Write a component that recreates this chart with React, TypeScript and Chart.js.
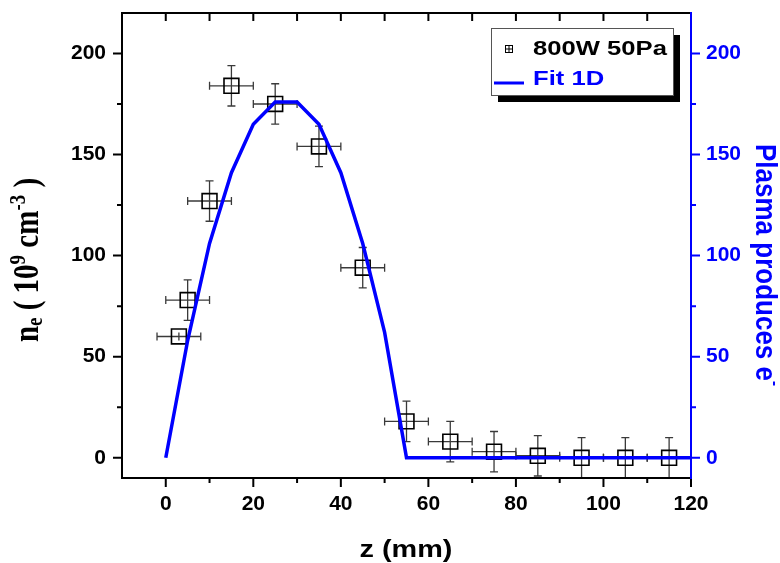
import { useEffect, useRef } from 'react';
import { Chart, registerables } from 'chart.js';

Chart.register(...registerables);

// ---- data ----
const measZ = [3, 5, 10, 15, 25, 35, 45, 55, 65, 75, 85, 95, 105, 115];
const measNe = [60, 78, 127, 184, 175, 154, 94, 18, 8, 3, 1, 0, 0, 0];
const measZErr = [5, 5, 5, 5, 5, 5, 5, 5, 5, 5, 5, 5, 5, 5];
const measNeErr = [2, 10, 10, 10, 10, 10, 10, 10, 10, 10, 10, 10, 10, 10];

const fitZ = [0, 5, 10, 15, 20, 25, 30, 35, 40, 45, 50, 55, 60, 65, 70, 75, 80, 85, 90, 95, 100, 105, 110, 115, 120];
const fitVal = [0, 58, 106, 141, 165, 176, 176, 165, 141, 106, 62, 0, 0, 0, 0, 0, 0, 0, 0, 0, 0, 0, 0, 0, 0];

const xTicks = [0, 20, 40, 60, 80, 100, 120];
const xMinor = [10, 30, 50, 70, 90, 110];
const xTopTicks = [0, 10, 20, 30, 40, 50, 60, 70, 80, 90, 100, 110];
const yTicks = [0, 50, 100, 150, 200];
const yMinor = [25, 75, 125, 175];

const seriesLabel = '800W 50Pa';
const fitLabel = 'Fit 1D';
const xTitle = 'z (mm)';
const rightTitle = 'Plasma produces e';

const BLUE = '#0000ff';
const SANS = '"Liberation Sans", Arial, sans-serif';
const SERIF = '"Liberation Serif", "Times New Roman", serif';

type Part = { t: string; size: number; dy: number };

function drawParts(ctx: CanvasRenderingContext2D, parts: Part[], family: string) {
  let total = 0;
  const widths: number[] = [];
  for (const p of parts) {
    ctx.font = `bold ${p.size}px ${family}`;
    const w = ctx.measureText(p.t).width;
    widths.push(w);
    total += w;
  }
  let x = -total / 2;
  ctx.textAlign = 'left';
  ctx.textBaseline = 'alphabetic';
  parts.forEach((p, i) => {
    ctx.font = `bold ${p.size}px ${family}`;
    ctx.fillText(p.t, x, p.dy);
    x += widths[i];
  });
}

const decorPlugin = {
  id: 'decor',
  beforeDatasetsDraw(chart: any) {
    const ctx: CanvasRenderingContext2D = chart.ctx;
    const xs = chart.scales.x;
    const ys = chart.scales.y;
    ctx.save();
    ctx.strokeStyle = '#3a3a3a';
    ctx.lineWidth = 1.3;
    const cap = 4;
    for (let i = 0; i < measZ.length; i++) {
      const px = xs.getPixelForValue(measZ[i]);
      const py = ys.getPixelForValue(measNe[i]);
      const xl = xs.getPixelForValue(measZ[i] - measZErr[i]);
      const xr = xs.getPixelForValue(measZ[i] + measZErr[i]);
      const yt = ys.getPixelForValue(measNe[i] + measNeErr[i]);
      const yb = ys.getPixelForValue(measNe[i] - measNeErr[i]);
      ctx.beginPath();
      ctx.moveTo(xl, py); ctx.lineTo(xr, py);
      ctx.moveTo(xl, py - cap); ctx.lineTo(xl, py + cap);
      ctx.moveTo(xr, py - cap); ctx.lineTo(xr, py + cap);
      ctx.moveTo(px, yt); ctx.lineTo(px, yb);
      if (measNeErr[i] > 3) {
        ctx.moveTo(px - cap, yt); ctx.lineTo(px + cap, yt);
        ctx.moveTo(px - cap, yb); ctx.lineTo(px + cap, yb);
      }
      ctx.stroke();
    }
    ctx.restore();
  },
  afterDraw(chart: any) {
    const ctx: CanvasRenderingContext2D = chart.ctx;
    const a = chart.chartArea;
    const xs = chart.scales.x;
    const ys = chart.scales.y;
    const ys2 = chart.scales.y2;
    ctx.save();
    // frame
    ctx.lineWidth = 2;
    ctx.strokeStyle = '#000';
    ctx.beginPath();
    ctx.moveTo(a.left, a.bottom); ctx.lineTo(a.left, a.top - 1);
    ctx.moveTo(a.left - 1, a.top); ctx.lineTo(a.right, a.top);
    ctx.moveTo(a.left - 1, a.bottom); ctx.lineTo(a.right, a.bottom);
    // left ticks
    for (const v of yTicks) { const p = ys.getPixelForValue(v); ctx.moveTo(a.left - 9, p); ctx.lineTo(a.left, p); }
    for (const v of yMinor) { const p = ys.getPixelForValue(v); ctx.moveTo(a.left - 5, p); ctx.lineTo(a.left, p); }
    // bottom ticks
    for (const v of xTicks) { const p = xs.getPixelForValue(v); ctx.moveTo(p, a.bottom); ctx.lineTo(p, a.bottom + 9); }
    for (const v of xMinor) { const p = xs.getPixelForValue(v); ctx.moveTo(p, a.bottom); ctx.lineTo(p, a.bottom + 5); }
    // top ticks (inward)
    for (const v of xTopTicks) { const p = xs.getPixelForValue(v); ctx.moveTo(p, a.top); ctx.lineTo(p, a.top + 8); }
    ctx.stroke();
    // right axis
    ctx.strokeStyle = BLUE;
    ctx.beginPath();
    ctx.moveTo(a.right, a.top - 1); ctx.lineTo(a.right, a.bottom + 1);
    for (const v of yTicks) { const p = ys2.getPixelForValue(v); ctx.moveTo(a.right, p); ctx.lineTo(a.right + 9, p); }
    for (const v of yMinor) { const p = ys2.getPixelForValue(v); ctx.moveTo(a.right, p); ctx.lineTo(a.right + 5, p); }
    ctx.stroke();

    // left title
    ctx.fillStyle = '#000';
    ctx.save();
    ctx.translate(38, 260);
    ctx.rotate(-Math.PI / 2);
    ctx.scale(1, 1.2);
    drawParts(ctx, [
      { t: 'n', size: 29, dy: 0 },
      { t: 'e', size: 19, dy: 3 },
      { t: ' ( 10', size: 29, dy: 0 },
      { t: '9', size: 19, dy: -11 },
      { t: ' cm', size: 29, dy: 0 },
      { t: '-3', size: 19, dy: -11 },
      { t: ' )', size: 29, dy: 0 },
    ], SERIF);
    ctx.restore();

    // right title
    ctx.fillStyle = BLUE;
    ctx.save();
    ctx.translate(756, 265);
    ctx.rotate(Math.PI / 2);
    ctx.scale(1, 1.15);
    drawParts(ctx, [
      { t: rightTitle, size: 26, dy: 0 },
      { t: '-', size: 15, dy: -12 },
    ], SANS);
    ctx.restore();

    // bottom title
    ctx.fillStyle = '#000';
    ctx.save();
    ctx.translate(406, 557);
    ctx.scale(1.2, 1);
    ctx.font = `bold 24px ${SANS}`;
    ctx.textAlign = 'center';
    ctx.textBaseline = 'alphabetic';
    ctx.fillText(xTitle, 0, 0);
    ctx.restore();

    // legend
    const bx = 491, by = 28, bw = 182, bh = 67;
    ctx.fillStyle = '#000';
    ctx.fillRect(bx + 7, by + 7, bw, bh);
    ctx.fillStyle = '#fff';
    ctx.fillRect(bx, by, bw, bh);
    ctx.lineWidth = 1;
    ctx.strokeStyle = '#555';
    ctx.strokeRect(bx + 0.5, by + 0.5, bw, bh);
    // marker
    ctx.strokeStyle = '#000';
    ctx.lineWidth = 1;
    ctx.strokeRect(505.5, 45.5, 7, 7);
    ctx.beginPath();
    ctx.moveTo(509, 45.5); ctx.lineTo(509, 52.5);
    ctx.moveTo(505.5, 49); ctx.lineTo(512.5, 49);
    ctx.stroke();
    // line sample
    ctx.strokeStyle = BLUE;
    ctx.lineWidth = 3;
    ctx.beginPath();
    ctx.moveTo(494, 83); ctx.lineTo(524, 83);
    ctx.stroke();
    ctx.font = `bold 21px ${SANS}`;
    ctx.textAlign = 'left';
    ctx.textBaseline = 'alphabetic';
    ctx.save();
    ctx.translate(533, 55);
    ctx.scale(1.22, 1);
    ctx.fillStyle = '#000';
    ctx.fillText(seriesLabel, 0, 0);
    ctx.restore();
    ctx.save();
    ctx.translate(533, 85);
    ctx.scale(1.22, 1);
    ctx.fillStyle = BLUE;
    ctx.fillText(fitLabel, 0, 0);
    ctx.restore();

    ctx.restore();
  },
};

export default function App() {
  const ref = useRef<HTMLCanvasElement | null>(null);
  useEffect(() => {
    if (!ref.current) return;
    const tickFont = { family: SANS, weight: 'bold' as const, size: 21 };
    const chart = new Chart(ref.current, {
      type: 'scatter',
      data: {
        datasets: [
          {
            type: 'line',
            label: fitLabel,
            data: fitZ.map((z, i) => ({ x: z, y: fitVal[i] })),
            borderColor: BLUE,
            borderWidth: 3.5,
            pointRadius: 0,
            fill: false,
            tension: 0,
            xAxisID: 'x',
            yAxisID: 'y2',
            order: 0,
          } as any,
          {
            type: 'scatter',
            label: seriesLabel,
            data: measZ.map((z, i) => ({ x: z, y: measNe[i] })),
            pointStyle: 'rect',
            pointRadius: 10.5,
            pointBorderWidth: 1.6,
            borderColor: '#000',
            backgroundColor: 'rgba(0,0,0,0)',
            xAxisID: 'x',
            yAxisID: 'y',
            order: 1,
          } as any,
        ],
      },
      options: {
        animation: false,
        responsive: false,
        layout: { padding: { top: 13, left: 0, right: 0, bottom: 0 } },
        plugins: { legend: { display: false }, tooltip: { enabled: false } },
        scales: {
          x: {
            type: 'linear',
            position: 'bottom',
            min: -10,
            max: 120,
            grid: { display: false, drawTicks: false },
            border: { display: false },
            ticks: { font: tickFont, color: '#000', padding: 14, maxRotation: 0, autoSkip: false },
            afterBuildTicks: (s: any) => { s.ticks = xTicks.map((v) => ({ value: v })); },
            afterFit: (s: any) => { s.height = 85; s.paddingLeft = 0; s.paddingRight = 0; },
          },
          y: {
            type: 'linear',
            position: 'left',
            min: -10,
            max: 220,
            grid: { display: false, drawTicks: false },
            border: { display: false },
            ticks: { font: tickFont, color: '#000', padding: 16 },
            afterBuildTicks: (s: any) => { s.ticks = yTicks.map((v) => ({ value: v })); },
            afterFit: (s: any) => { s.width = 122; s.paddingTop = 0; s.paddingBottom = 0; },
          },
          y2: {
            type: 'linear',
            position: 'right',
            min: -10,
            max: 220,
            grid: { display: false, drawTicks: false },
            border: { display: false },
            ticks: { font: tickFont, color: BLUE, padding: 15 },
            afterBuildTicks: (s: any) => { s.ticks = yTicks.map((v) => ({ value: v })); },
            afterFit: (s: any) => { s.width = 89; s.paddingTop = 0; s.paddingBottom = 0; },
          },
        },
      } as any,
      plugins: [decorPlugin],
    });
    return () => chart.destroy();
  }, []);
  return (
    <div style={{ position: 'fixed', left: 0, top: 0, width: 780, height: 563, background: '#fff' }}>
      <canvas ref={ref} width={780} height={563} style={{ display: 'block' }} />
    </div>
  );
}
